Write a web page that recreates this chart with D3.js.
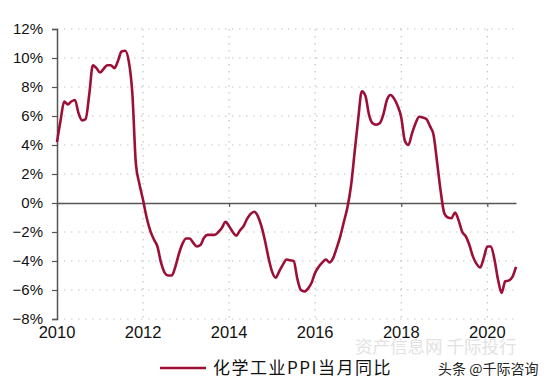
<!DOCTYPE html>
<html>
<head>
<meta charset="utf-8">
<title>化学工业PPI当月同比</title>
<script src="https://cdn.jsdelivr.net/npm/d3@7"></script>
<style>
  body { margin: 0; background: #fff; }
  text { font-family: "Liberation Sans", Arial, sans-serif; fill: #111; }
</style>
</head>
<body>
<script>
  // monthly values, Jan 2010 .. Sep 2020 (%)
  var startYear = 2010;
  var ppiYoY = [
    4.2, 5.7, 7.0, 6.8, 7.0, 7.1, 6.2, 5.7, 5.8, 7.5, 9.5, 9.3,        // 2010
    9.0, 9.25, 9.5, 9.5, 9.3, 9.8, 10.45, 10.5, 9.8, 7.6, 2.7, 1.3,    // 2011
    0.2, -1.0, -1.9, -2.5, -3.0, -4.1, -4.8, -5.0, -5.0, -4.4, -3.5, -2.8, // 2012
    -2.45, -2.45, -2.75, -3.0, -2.9, -2.4, -2.2, -2.2, -2.2, -2.0, -1.7, -1.3, // 2013
    -1.6, -2.0, -2.25, -1.9, -1.6, -1.1, -0.75, -0.6, -0.9, -1.6, -2.6, -3.8, // 2014
    -4.75, -5.15, -4.7, -4.25, -3.9, -3.95, -4.0, -5.2, -6.0, -6.1, -5.9, -5.5, // 2015
    -4.8, -4.4, -4.1, -3.9, -4.1, -3.8, -3.1, -2.3, -1.3, -0.3, 1.2, 3.5, // 2016
    5.8, 7.7, 7.4, 6.1, 5.5, 5.4, 5.5, 6.1, 7.1, 7.45, 7.2, 6.7,        // 2017
    5.9, 4.3, 4.0, 4.8, 5.5, 5.95, 5.9, 5.8, 5.3, 4.7, 2.8, 0.8,        // 2018
    -0.7, -1.0, -1.05, -0.65, -1.2, -2.0, -2.3, -2.9, -3.7, -4.2, -4.45, -3.8, // 2019
    -3.0, -3.0, -3.9, -5.3, -6.2, -5.4, -5.35, -5.1, -4.4              // 2020
  ];
  var yTicks = [12, 10, 8, 6, 4, 2, 0, -2, -4, -6, -8];
  var xTicks = [2010, 2012, 2014, 2016, 2018, 2020];
  var seriesName = "化学工业PPI当月同比";

  var width = 549, height = 386;
  var lineColor = "#9c1038";

  var svg = d3.select("body").append("svg")
      .attr("width", width)
      .attr("height", height);

  var xScale = d3.scaleLinear()
      .domain([2010, 2020 + 8 / 12])
      .range([57, 516]);

  var yScale = d3.scaleLinear()
      .domain([-8, 12])
      .range([319, 29]);

  // dotted grid
  svg.append("g").selectAll("line")
      .data(yTicks.filter(function(d) { return d !== 0; }))
      .enter().append("line")
      .attr("x1", xScale(2010)).attr("x2", 519)
      .attr("y1", function(d) { return yScale(d); })
      .attr("y2", function(d) { return yScale(d); })
      .attr("stroke", "#c4c4c4")
      .attr("stroke-width", 1.2)
      .attr("stroke-dasharray", "1.5,5.5");

  svg.append("g").selectAll("line")
      .data(xTicks.slice(1))
      .enter().append("line")
      .attr("x1", function(d) { return xScale(d); })
      .attr("x2", function(d) { return xScale(d); })
      .attr("y1", yScale(12)).attr("y2", yScale(-8))
      .attr("stroke", "#c4c4c4")
      .attr("stroke-width", 1.2)
      .attr("stroke-dasharray", "1.5,5.5");

  // y axis
  var yAxis = d3.axisLeft(yScale)
      .tickValues(yTicks)
      .tickSize(5)
      .tickPadding(9)
      .tickFormat(function(d) { return (d < 0 ? "\u2212" + (-d) : d) + "%"; });

  var gy = svg.append("g")
      .attr("transform", "translate(" + xScale(2010) + ",0)")
      .call(yAxis);
  gy.select(".domain").attr("stroke", "#555").attr("stroke-width", 1.5);
  gy.selectAll(".tick line").attr("stroke", "#555").attr("stroke-width", 1.2);
  gy.selectAll(".tick text").style("font-size", "15px").attr("fill", "#111");

  // x axis on the zero line
  var xAxis = d3.axisBottom(xScale)
      .tickValues(xTicks)
      .tickSize(4)
      .tickSizeOuter(0)
      .tickFormat("");

  var gx = svg.append("g")
      .attr("transform", "translate(0," + yScale(0) + ")")
      .call(xAxis);
  gx.select(".domain").attr("stroke", "#555").attr("stroke-width", 1.3);
  gx.selectAll(".tick line").attr("stroke", "#555").attr("stroke-width", 1.2);

  // year labels at the bottom
  svg.append("g").selectAll("text")
      .data(xTicks)
      .enter().append("text")
      .attr("x", function(d) { return xScale(d); })
      .attr("y", 338)
      .attr("text-anchor", "middle")
      .style("font-size", "16.5px")
      .text(function(d) { return d; });

  // series line
  var line = d3.line()
      .x(function(d, i) { return xScale(startYear + i / 12); })
      .y(function(d) { return yScale(d); })
      .curve(d3.curveMonotoneX);

  svg.append("path")
      .datum(ppiYoY)
      .attr("d", line)
      .attr("fill", "none")
      .attr("stroke", lineColor)
      .attr("stroke-width", 2.6)
      .attr("stroke-linejoin", "round");

  // legend
  svg.append("line")
      .attr("x1", 160).attr("x2", 206)
      .attr("y1", 368).attr("y2", 368)
      .attr("stroke", lineColor)
      .attr("stroke-width", 2.6);

  svg.append("text")
      .attr("x", 213).attr("y", 374)
      .style("font-size", "17px")
      .style("letter-spacing", "1.5px")
      .style("font-family", "'Noto Sans CJK SC', sans-serif")
      .text(seriesName);

  // watermarks
  svg.append("text")
      .attr("x", 355).attr("y", 353)
      .style("font-size", "17.5px")
      .style("font-family", "'Noto Sans CJK SC', sans-serif")
      .style("fill", "#e2e2e2")
      .text("资产信息网 千际投行");

  svg.append("text")
      .attr("x", 438).attr("y", 374)
      .style("font-size", "14px")
      .style("font-family", "'Noto Sans CJK SC', sans-serif")
      .style("fill", "#222")
      .text("头条 @千际咨询");
</script>
</body>
</html>
